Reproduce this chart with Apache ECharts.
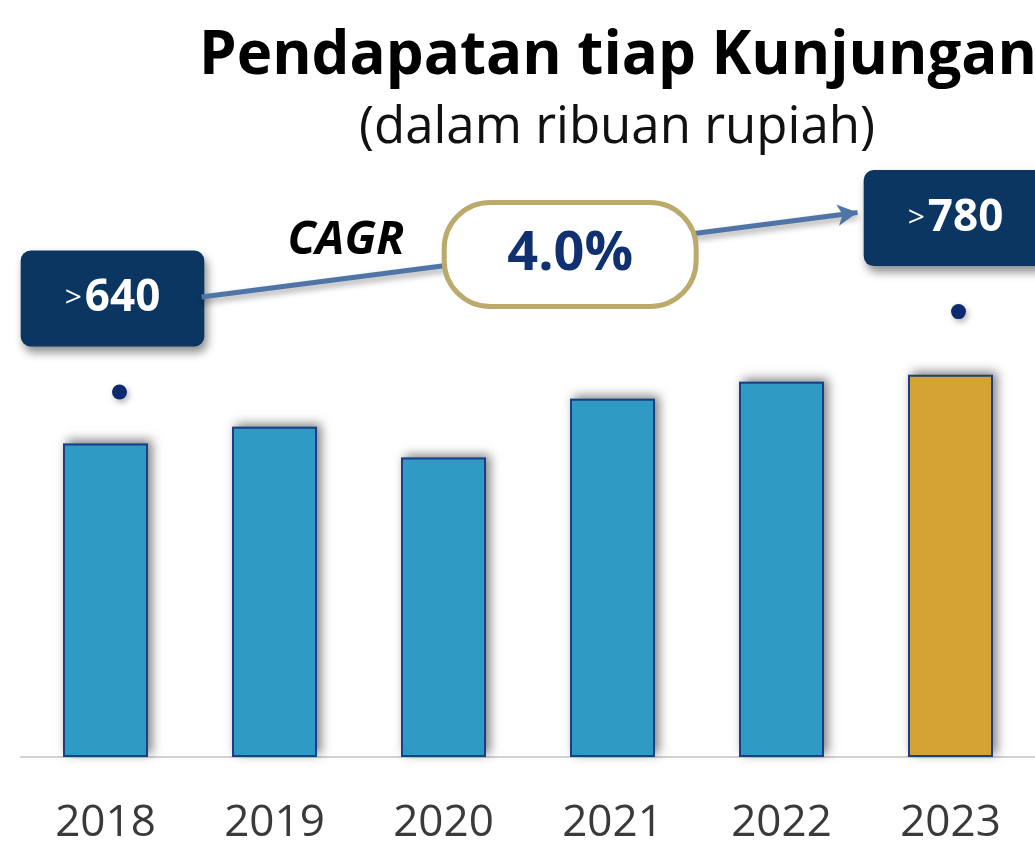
<!DOCTYPE html>
<html>
<head>
<meta charset="utf-8">
<title>Pendapatan tiap Kunjungan</title>
<script src="https://cdn.jsdelivr.net/npm/echarts@6/dist/echarts.min.js"></script>
<style>
  html, body { margin: 0; padding: 0; background: #ffffff; }
  #chart { width: 1035px; height: 847px; }
</style>
</head>
<body>
<div id="chart"></div>
<script>
// data
const categories = ['2018', '2019', '2020', '2021', '2022', '2023'];
const revenuePerVisit = [640, 674, 611, 731, 766, 780];
const highlightYear = '2023';
// the two dots with callout boxes sit a bit above their bars
const markerValues = [745, null, null, null, null, 909];
const markerLabels = ['>640', '', '', '', '', '>780'];
const titleText = 'Pendapatan tiap Kunjungan';
const subtitleText = '(dalam ribuan rupiah)';
const cagrTitle = 'CAGR';
const cagrValue = '4.0%';

const FONT = '"Open Sans", "Noto Sans", sans-serif';
const NAVY = '#0b3662';
const BAR_BLUE = '#2f9bc5';
const BAR_GOLD = '#d4a334';
const BAR_BORDER = '#1f3d84';

const chart = echarts.init(document.getElementById('chart'), null, { renderer: 'canvas' });

const barColors = categories.map((c) => (c === highlightYear ? BAR_GOLD : BAR_BLUE));

const option = {
  backgroundColor: '#ffffff',
  animation: false,
  grid: {
    left: 21,
    right: -3,
    top: 267,
    bottom: 90
  },
  xAxis: {
    type: 'category',
    data: categories,
    axisLine: {
      lineStyle: { color: '#d2d2d2', width: 2 }
    },
    axisTick: { show: false },
    axisLabel: {
      color: '#3a3a3a',
      fontFamily: FONT,
      fontSize: 44,
      margin: 44
    }
  },
  yAxis: {
    type: 'value',
    min: 0,
    max: 1000,
    show: false
  },
  series: [
    {
      // shadow layer only
      name: 'Bayangan',
      type: 'bar',
      barWidth: 85,
      silent: true,
      data: revenuePerVisit.map((v, i) => ({ value: v, itemStyle: { color: barColors[i] } })),
      itemStyle: {
        shadowColor: 'rgba(0, 0, 0, 0.5)',
        shadowBlur: 10,
        shadowOffsetX: 4,
        shadowOffsetY: -3
      }
    },
    {
      name: 'Pendapatan',
      type: 'bar',
      barWidth: 85,
      barGap: '-100%',
      data: revenuePerVisit.map((v, i) => ({ value: v, itemStyle: { color: barColors[i] } })),
      itemStyle: {
        borderColor: BAR_BORDER,
        borderWidth: 2
      }
    },
    {
      name: 'Penanda',
      type: 'scatter',
      symbolSize: 15,
      data: markerValues.map((v, i) => ({
        value: v,
        symbolOffset: [i === 0 ? 14 : 8, 0],
        label: { offset: [i === 0 ? -7 : -3, 0] }
      })),
      itemStyle: {
        color: '#0d2a6e',
        opacity: 1,
        shadowColor: 'rgba(0, 0, 0, 0.3)',
        shadowBlur: 6,
        shadowOffsetX: 2,
        shadowOffsetY: 3
      },
      label: {
        show: true,
        position: 'top',
        distance: 38,
        formatter: (p) => {
          const txt = markerLabels[p.dataIndex];
          return '{gt|>}{num|' + txt.replace('>', '') + '}';
        },
        backgroundColor: NAVY,
        borderRadius: 10,
        padding: [26, 44, 26, 44],
        shadowColor: 'rgba(0, 0, 0, 0.45)',
        shadowBlur: 10,
        shadowOffsetX: 3,
        shadowOffsetY: 6,
        rich: {
          gt: { color: '#ffffff', fontFamily: FONT, fontSize: 30, lineHeight: 44, verticalAlign: 'middle', padding: [0, 3, 0, 0] },
          num: { color: '#ffffff', fontFamily: FONT, fontSize: 44, fontWeight: 'bold', lineHeight: 44, verticalAlign: 'middle' }
        }
      }
    }
  ],
  graphic: [
    {
      type: 'text',
      x: 618,
      y: 57,
      style: {
        text: titleText,
        fill: '#000000',
        fontFamily: FONT,
        fontSize: 60,
        fontWeight: 'bold',
        align: 'center',
        verticalAlign: 'middle'
      }
    },
    {
      type: 'text',
      x: 617,
      y: 128,
      style: {
        text: subtitleText,
        fill: '#111111',
        fontFamily: FONT,
        fontSize: 51,
        align: 'center',
        verticalAlign: 'middle'
      }
    }
  ]
};

chart.setOption(option);

// the CAGR arrow goes from the right edge of the first callout to the left edge of the last
const first = chart.convertToPixel({ seriesIndex: 2 }, [0, markerValues[0]]);
const last = chart.convertToPixel({ seriesIndex: 2 }, [categories.length - 1, markerValues[categories.length - 1]]);
const start = [first[0] + 96, first[1] - 95];
const end = [last[0] - 93, last[1] - 99];
const along = (t) => [start[0] + (end[0] - start[0]) * t, start[1] + (end[1] - start[1]) * t];
const pill = along(0.562);
const cagrPos = along(0.22);

chart.setOption({
  series: [
    {},
    {},
    {
      markLine: {
        silent: true,
        symbol: ['none', 'arrow'],
        symbolSize: [16, 20],
        label: { show: false },
        lineStyle: {
          color: '#4f75a6',
          width: 5,
          type: 'solid',
          opacity: 1,
          shadowColor: 'rgba(0, 0, 0, 0.35)',
          shadowBlur: 6,
          shadowOffsetY: 4
        },
        data: [[{ x: start[0], y: start[1] }, { x: end[0], y: end[1] }]]
      }
    }
  ],
  graphic: [
    {},
    {},
    {
      type: 'text',
      x: cagrPos[0],
      y: cagrPos[1] - 38,
      z: 100,
      style: {
        text: cagrTitle,
        fill: '#000000',
        fontFamily: FONT,
        fontSize: 46,
        fontWeight: 'bold',
        fontStyle: 'italic',
        align: 'center',
        verticalAlign: 'middle'
      }
    },
    {
      type: 'rect',
      x: pill[0] - 126,
      y: pill[1] + 5 - 52,
      z: 100,
      shape: { x: 0, y: 0, width: 252, height: 104, r: 46 },
      style: {
        fill: '#ffffff',
        stroke: '#bcaa6c',
        lineWidth: 5
      }
    },
    {
      type: 'text',
      x: pill[0],
      y: pill[1] + 5,
      z: 101,
      style: {
        text: cagrValue,
        fill: '#10306f',
        fontFamily: FONT,
        fontSize: 54,
        fontWeight: 'bold',
        align: 'center',
        verticalAlign: 'middle'
      }
    }
  ]
});

window.addEventListener('resize', () => chart.resize());
</script>
</body>
</html>
